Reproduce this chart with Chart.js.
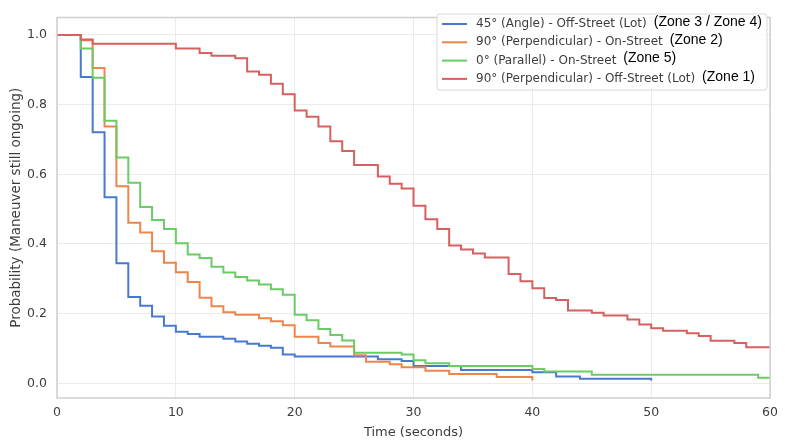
<!DOCTYPE html>
<html>
<head>
<meta charset="utf-8">
<script src="https://cdn.jsdelivr.net/npm/chart.js@4.4.1/dist/chart.umd.min.js"></script>
<style>
  html, body { margin: 0; padding: 0; background: #fff; }
  #wrap { width: 785px; height: 445px; position: relative; }
</style>
</head>
<body>
<div id="wrap"><canvas id="survivalChart"></canvas></div>
<script>
// Series labels (legend) and the zone notes tacked on after them
const seriesLabels = [
  "45° (Angle) - Off-Street (Lot)",
  "90° (Perpendicular) - On-Street",
  "0° (Parallel) - On-Street",
  "90° (Perpendicular) - Off-Street (Lot)"
];
const zoneLabels = ["(Zone 3 / Zone 4)", "(Zone 2)", "(Zone 5)", "(Zone 1)"];
const seriesColors = ["#4878d0", "#ee854a", "#6acc64", "#d65f5f"];

// Step survival curves: event times (s) and probability still ongoing
const angleTimes = [0, 2, 3, 4, 5, 6, 7, 8, 9, 10, 11, 12, 14, 15, 16, 17, 18, 19, 20, 27, 29, 30, 34, 40, 42, 44, 50];
const angleProb  = [1.0, 0.879, 0.721, 0.534, 0.345, 0.248, 0.223, 0.192, 0.165, 0.148, 0.142, 0.134, 0.128, 0.120, 0.114, 0.108, 0.102, 0.083, 0.077, 0.069, 0.064, 0.050, 0.038, 0.032, 0.020, 0.013, 0.008];

const perpOnTimes = [0, 2, 3, 4, 5, 6, 7, 8, 9, 10, 11, 12, 13, 14, 15, 17, 18, 19, 20, 22, 23, 25, 26, 28, 29, 31, 33, 37, 40];
const perpOnProb  = [1.0, 0.985, 0.905, 0.737, 0.566, 0.461, 0.433, 0.379, 0.346, 0.319, 0.291, 0.246, 0.221, 0.204, 0.197, 0.187, 0.178, 0.167, 0.134, 0.116, 0.106, 0.081, 0.062, 0.055, 0.046, 0.036, 0.027, 0.018, 0.008];

const parallelTimes = [0, 2, 3, 4, 5, 6, 7, 8, 9, 10, 11, 12, 13, 14, 15, 16, 17, 18, 19, 20, 21, 22, 23, 24, 25, 29, 30, 31, 33, 40, 41, 45, 59, 60];
const parallelProb  = [1.0, 0.961, 0.877, 0.754, 0.648, 0.576, 0.506, 0.469, 0.443, 0.402, 0.370, 0.360, 0.335, 0.318, 0.305, 0.295, 0.284, 0.270, 0.254, 0.197, 0.181, 0.156, 0.139, 0.123, 0.088, 0.083, 0.066, 0.058, 0.050, 0.041, 0.034, 0.025, 0.016, 0.016];

const perpLotTimes = [0, 2, 3, 10, 12, 13, 15, 16, 17, 18, 19, 20, 21, 22, 23, 24, 25, 27, 28, 29, 30, 31, 32, 33, 34, 35, 36, 38, 39, 40, 41, 42, 43, 45, 46, 48, 49, 50, 51, 53, 54, 55, 57, 58, 60];
const perpLotProb  = [1.0, 0.987, 0.975, 0.961, 0.948, 0.940, 0.933, 0.895, 0.886, 0.860, 0.830, 0.783, 0.765, 0.737, 0.695, 0.667, 0.627, 0.594, 0.573, 0.559, 0.510, 0.471, 0.443, 0.396, 0.384, 0.373, 0.361, 0.314, 0.293, 0.273, 0.245, 0.239, 0.209, 0.203, 0.195, 0.183, 0.169, 0.158, 0.151, 0.144, 0.136, 0.122, 0.116, 0.104, 0.104];

const xTicks = [0, 10, 20, 30, 40, 50, 60];
const yTicks = [0.0, 0.2, 0.4, 0.6, 0.8, 1.0];

const seriesTimes = [angleTimes, perpOnTimes, parallelTimes, perpLotTimes];
const seriesProb = [angleProb, perpOnProb, parallelProb, perpLotProb];

const textFont = "'DejaVu Sans', sans-serif";
const textColor = "#3d3d3d";

// legend drawn inside the axes, matplotlib style, with the zone note after each label
const legendPlugin = {
  id: 'boxLegend',
  afterDraw(chart) {
    const ctx = chart.ctx;
    const x = 437, y = 14, w = 330, h = 76;
    ctx.save();
    ctx.beginPath();
    ctx.roundRect(x, y, w, h, 3);
    ctx.fillStyle = "rgba(255,255,255,0.85)";
    ctx.fill();
    ctx.strokeStyle = "#d8d8d8";
    ctx.lineWidth = 1;
    ctx.stroke();

    seriesLabels.forEach((label, i) => {
      const cy = 24 + i * 18.3;
      ctx.strokeStyle = seriesColors[i];
      ctx.lineWidth = 2;
      ctx.beginPath();
      ctx.moveTo(442, cy);
      ctx.lineTo(467, cy);
      ctx.stroke();

      ctx.font = "12px " + textFont;
      ctx.fillStyle = textColor;
      ctx.textBaseline = "middle";
      ctx.textAlign = "left";
      ctx.fillText(label, 476, cy);
      const lw = ctx.measureText(label).width;

      ctx.font = "14px 'Liberation Sans', Arial, sans-serif";
      ctx.fillStyle = "#000";
      ctx.fillText(zoneLabels[i], 476 + lw + 7, cy - 2);
    });
    ctx.restore();
  }
};

// light grey frame round the axes, drawn over the lines
const framePlugin = {
  id: 'axesFrame',
  afterDatasetsDraw(chart) {
    const a = chart.chartArea;
    const ctx = chart.ctx;
    ctx.save();
    ctx.strokeStyle = "#cfcfcf";
    ctx.lineWidth = 1.5;
    ctx.strokeRect(a.left, a.top, a.right - a.left, a.bottom - a.top);
    ctx.restore();
  }
};

const datasets = seriesLabels.map((label, i) => ({
  label,
  data: seriesTimes[i].map((t, j) => ({ x: t, y: seriesProb[i][j] })),
  borderColor: seriesColors[i],
  backgroundColor: seriesColors[i],
  borderWidth: 2,
  pointRadius: 0,
  stepped: 'before',
  fill: false,
  order: seriesLabels.length - i
}));

new Chart(document.getElementById("survivalChart"), {
  type: 'line',
  data: { datasets },
  options: {
    responsive: true,
    maintainAspectRatio: false,
    animation: false,
    layout: { padding: { left: 0, right: 13, top: 8, bottom: 0 } },
    plugins: {
      legend: { display: false },
      tooltip: { enabled: false }
    },
    scales: {
      x: {
        type: 'linear',
        min: 0,
        max: 60,
        afterBuildTicks: s => { s.ticks = xTicks.map(v => ({ value: v })); },
        afterFit: s => { s.height = 47; },
        grid: { color: "#ebebeb", lineWidth: 1, drawTicks: false },
        border: { display: false },
        ticks: { padding: 7, color: textColor, font: { family: textFont, size: 12.5 } },
        title: {
          display: true,
          text: "Time (seconds)",
          color: textColor,
          font: { family: textFont, size: 13 },
          padding: { top: 0, bottom: 5 }
        }
      },
      y: {
        type: 'linear',
        min: -0.042,
        max: 1.05,
        afterBuildTicks: s => { s.ticks = yTicks.map(v => ({ value: v })); },
        afterFit: s => { s.width = 57; },
        grid: { color: "#ebebeb", lineWidth: 1, drawTicks: false },
        border: { display: false },
        ticks: {
          padding: 10,
          color: textColor,
          font: { family: textFont, size: 12.5 },
          callback: v => v.toFixed(1)
        },
        title: {
          display: true,
          text: "Probability (Maneuver still ongoing)",
          color: textColor,
          font: { family: textFont, size: 13.5 },
          padding: { top: 8, bottom: 0 }
        }
      }
    }
  },
  plugins: [framePlugin, legendPlugin]
});
</script>
</body>
</html>
